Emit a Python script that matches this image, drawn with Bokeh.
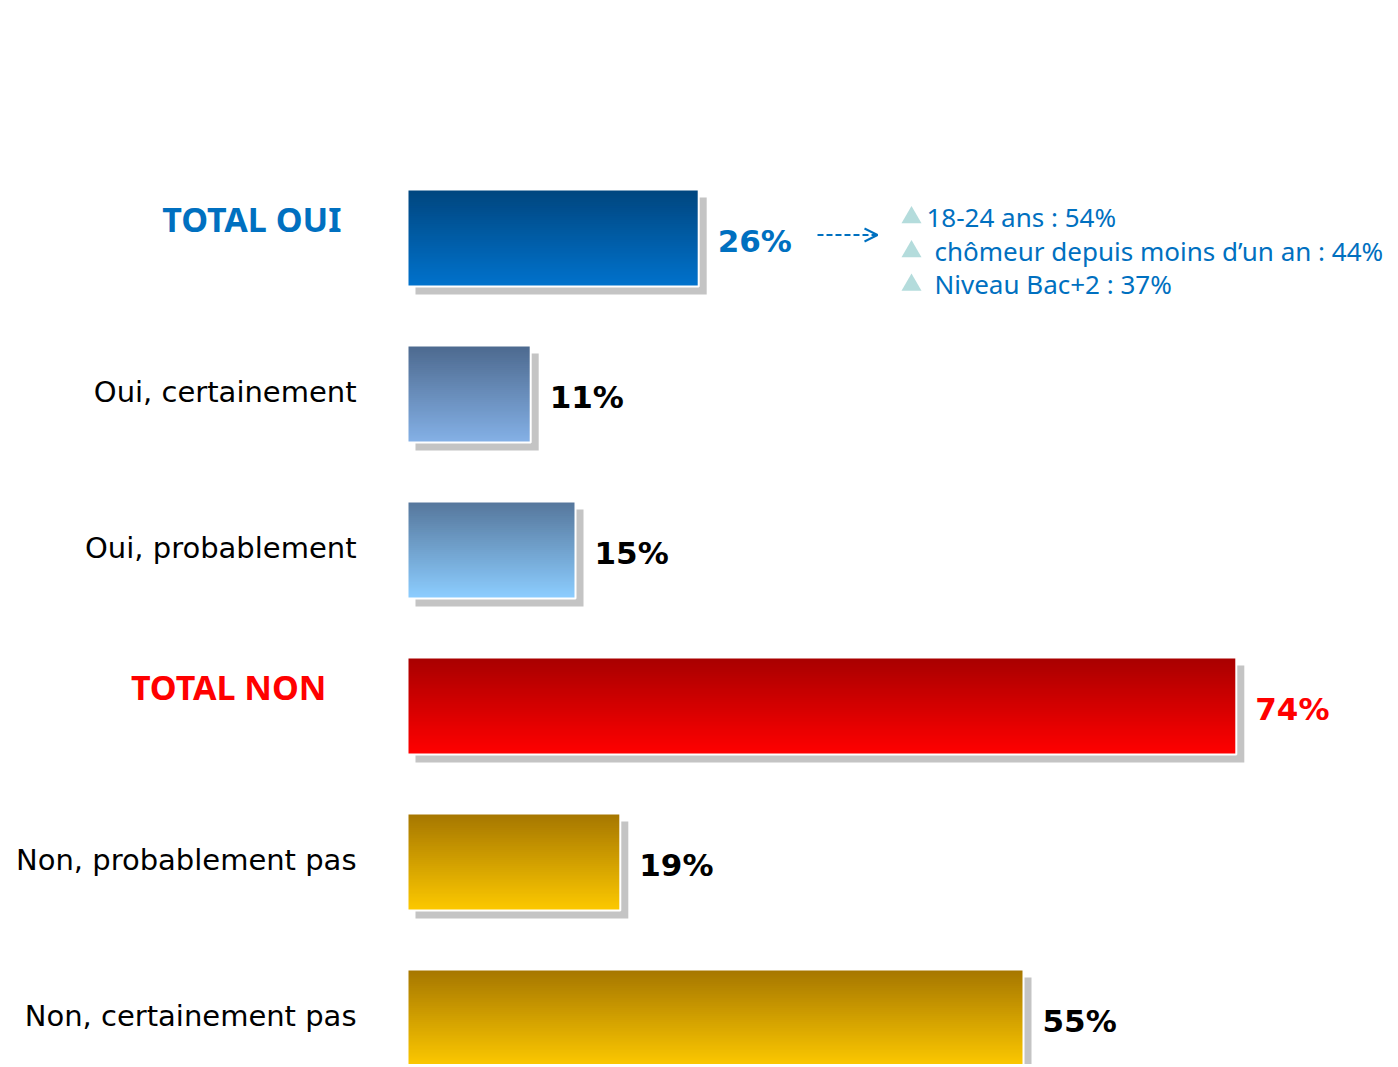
from bokeh.plotting import figure
from bokeh.models import Range1d, Arrow, OpenHead
from bokeh.core.properties import value
from bokeh.embed import file_html
from bokeh.resources import INLINE

# ---- data ----
categories = ["TOTAL OUI", "Oui, certainement", "Oui, probablement",
              "TOTAL NON", "Non, probablement pas", "Non, certainement pas"]
values = [26, 11, 15, 74, 19, 55]
value_labels = ["26%", "11%", "15%", "74%", "19%", "55%"]
highlights = ["18-24 ans : 54%", "chômeur depuis moins d\u2019un an : 44%", "Niveau Bac+2 : 37%"]

# ---- styles ----
top_colors = ["#00467f", "#4d6a8f", "#56779c", "#a80000", "#a67700", "#a67700"]
bot_colors = ["#0072cc", "#84b0e6", "#8ccdff", "#ff0000", "#fcc800", "#fcc800"]
label_colors = ["#0070c0", "#000000", "#000000", "#ff0000", "#000000", "#000000"]
cat_colors = ["#0070c0", "#000000", "#000000", "#ff0000", "#000000", "#000000"]
is_total = [True, False, False, True, False, False]

W, H = 1396, 1064
PXU = 11.2          # pixels per percent
PITCH = 156.0       # pixels per row
X0 = 407.0          # pixel of zero in figure
ROW0 = 237.5        # pixel centre of first row in figure

x_start = -X0 / PXU
x_end = (W - X0) / PXU
y_top = -ROW0 / PITCH
y_bot = (H - ROW0) / PITCH

p = figure(width=W, height=H, output_backend="svg", toolbar_location=None,
           x_range=Range1d(x_start, x_end), y_range=Range1d(y_bot, y_top),
           min_border=0, outline_line_color=None)
p.axis.visible = False
p.grid.visible = False
p.background_fill_color = "white"


def hx(c):
    c = c.lstrip("#")
    return [int(c[i:i + 2], 16) for i in (0, 2, 4)]


def mix(a, b, t):
    A, B = hx(a), hx(b)
    return "#%02x%02x%02x" % tuple(int(round(A[k] + (B[k] - A[k]) * t)) for k in range(3))


bar_h = 97.0 / PITCH
dx = 8.0 / PXU
dy = 8.0 / PITCH
N = 48

for i, v in enumerate(values):
    top = i - bar_h / 2
    bot = i + bar_h / 2
    # shadow
    p.quad(left=dx, right=v + dx, top=top + dy, bottom=bot + dy,
           fill_color="#c4c4c4", line_color=None)
    # gradient slices (each slice runs to the bottom, later ones overdraw)
    lefts, rights, tops, bots, cols = [], [], [], [], []
    for k in range(N):
        t0 = top + (bot - top) * k / N
        lefts.append(0); rights.append(v)
        tops.append(t0); bots.append(bot)
        cols.append(mix(top_colors[i], bot_colors[i], k / (N - 1)))
    p.quad(left=lefts, right=rights, top=tops, bottom=bots,
           fill_color=cols, line_color=None)
    # white frame
    p.quad(left=0, right=v, top=top, bottom=bot, fill_color=None,
           line_color="white", line_width=2)
    # value label
    p.text(x=[v + 19 / PXU], y=[i + 3 / PITCH], text=[value_labels[i]],
           text_color=label_colors[i], text_font=value("DejaVu Sans"),
           text_font_style="bold", text_font_size="31px",
           text_align="left", text_baseline="middle")
    # category label
    if is_total[i]:
        xr = 342 if i == 0 else 327
        p.text(x=[(xr - 408) / PXU], y=[i - 19 / PITCH], text=[categories[i]],
               text_color=cat_colors[i], text_font=value("Noto Sans"),
               text_font_style="bold", text_font_size="34px",
               text_align="right", text_baseline="middle")
    else:
        p.text(x=[(357 - 408) / PXU], y=[i - 2 / PITCH], text=[categories[i]],
               text_color=cat_colors[i], text_font=value("DejaVu Sans"),
               text_font_size="29px", text_align="right", text_baseline="middle")

# arrow
p.add_layout(Arrow(x_start=(818 - 408) / PXU, y_start=-3 / PITCH,
                   x_end=(878 - 408) / PXU, y_end=-3 / PITCH,
                   line_color="#0070c0", line_width=2, line_dash="6 3",
                   end=OpenHead(size=13, line_color="#0070c0", line_width=2)))

# highlight lines
line_y = [-21.5 / PITCH, 12.5 / PITCH, 46 / PITCH]
line_x = [927, 935, 935]
p.scatter(x=[(912 - 408) / PXU] * 3, y=[yy + 1 / PITCH for yy in line_y],
          marker="triangle", size=20, fill_color="#b4dcdc", line_color=None)
p.text(x=[(xx - 408) / PXU for xx in line_x], y=line_y, text=highlights,
       text_color="#0070c0", text_font=value("Noto Sans"), text_font_size="26px",
       text_align="left", text_baseline="middle")

open("out.html", "w").write(file_html(p, INLINE))
